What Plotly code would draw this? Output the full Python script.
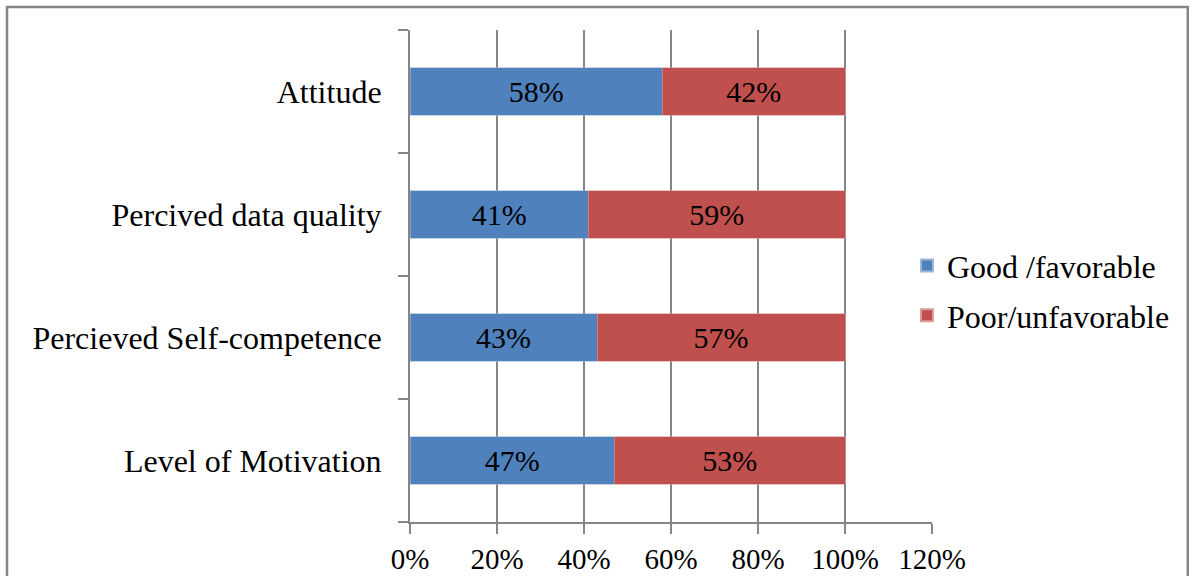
import plotly.graph_objects as go

categories = ["Level of Motivation", "Percieved Self-competence", "Percived data quality", "Attitude"]
good = [47, 43, 41, 58]
poor = [53, 57, 59, 42]
series_names = ["Good /favorable", "Poor/unfavorable"]
x_ticks = [0, 20, 40, 60, 80, 100, 120]

FONT = "Liberation Serif, Times New Roman, serif"
GRID = "#868686"

fig = go.Figure()
fig.add_trace(go.Bar(y=categories, x=good, orientation="h", name=series_names[0],
                     legendgroup="g1",
                     marker=dict(color="#4F81BD", line=dict(width=0.6, color="#9db5d6")),
                     text=[f"{v}%" for v in good], textposition="inside",
                     insidetextanchor="middle",
                     textfont=dict(family=FONT, size=30, color="black")))
fig.add_trace(go.Bar(y=categories, x=poor, orientation="h", name=series_names[1],
                     legendgroup="g2",
                     marker=dict(color="#C0504D", line=dict(width=0.6, color="#dc9c9a")),
                     text=[f"{v}%" for v in poor], textposition="inside",
                     insidetextanchor="middle",
                     textfont=dict(family=FONT, size=30, color="black")))

fig.update_layout(
    width=1196, height=576,
    barmode="stack", bargap=0.61,
    plot_bgcolor="white", paper_bgcolor="white",
    margin=dict(l=410, r=264, t=30, b=54, autoexpand=False),
    font=dict(family=FONT, size=30, color="black"),
    legend=dict(x=0.952, y=0.47, xanchor="left", yanchor="middle",
                bgcolor="rgba(0,0,0,0)", font=dict(family=FONT, size=32),
                traceorder="grouped", tracegroupgap=5, itemsizing="constant"),
    xaxis=dict(range=[0, 120], tickvals=x_ticks, ticktext=[f"{v}%" for v in x_ticks],
               tickfont=dict(family=FONT, size=29),
               showgrid=True, gridcolor=GRID, gridwidth=2,
               showline=True, linecolor=GRID, linewidth=2,
               ticks="outside", ticklen=10, tickwidth=2, tickcolor=GRID,
               zeroline=False, fixedrange=True, automargin=False),
    yaxis=dict(categoryorder="array", categoryarray=categories,
               tickfont=dict(family=FONT, size=32),
               showline=True, linecolor=GRID, linewidth=2,
               ticks="outside", ticklen=10, tickwidth=2, tickcolor=GRID,
               tickson="boundaries", showgrid=False, zeroline=False,
               ticklabelstandoff=20, automargin=False),
    shapes=[dict(type="rect", xref="paper", yref="paper",
                 x0=-0.772, x1=1.490, y0=-0.2, y1=1.0467,
                 line=dict(color=GRID, width=2.5), layer="below")],
)

fig.write_html("out.html")
